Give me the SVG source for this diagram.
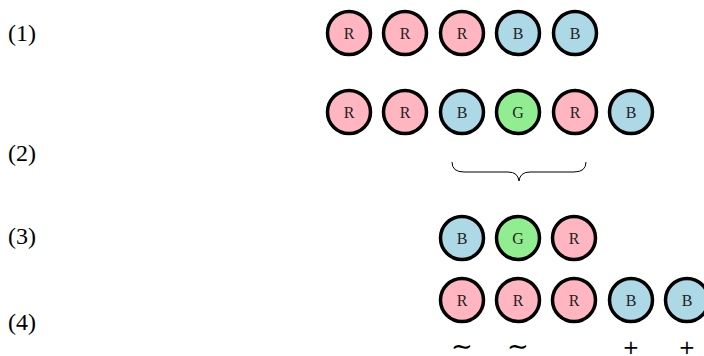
<svg xmlns="http://www.w3.org/2000/svg" width="704" height="356" viewBox="0 0 704 356">
<style>
circle{stroke:#000;stroke-width:3.5}
.r{fill:#FFB6C1}.b{fill:#ADD8E6}.g{fill:#90EE90}
.t{font-family:"Liberation Serif",serif;font-size:16px;text-anchor:middle;fill:#222}
.lab{font-family:"Liberation Serif",serif;font-size:24px;fill:#000}
.s{font-family:"DejaVu Sans",sans-serif;font-size:20px;text-anchor:middle;fill:#000}
.tl{font-family:"DejaVu Sans",sans-serif;font-size:26px;text-anchor:middle;fill:#000}
</style>
<rect width="704" height="356" fill="#fff"/>
<g id="labels">
<text class="lab" x="8" y="41">(1)</text>
<text class="lab" x="8" y="161">(2)</text>
<text class="lab" x="8" y="244">(3)</text>
<text class="lab" x="8" y="330">(4)</text>
</g>
<g id="row1">
<g id="n1a"><circle class="r" cx="349" cy="33" r="21.5"/><text class="t" x="349" y="39">R</text></g>
<g id="n1b"><circle class="r" cx="405" cy="33" r="21.5"/><text class="t" x="405" y="39">R</text></g>
<g id="n1c"><circle class="r" cx="462" cy="33" r="21.5"/><text class="t" x="462" y="39">R</text></g>
<g id="n1d"><circle class="b" cx="518" cy="33" r="21.5"/><text class="t" x="518" y="39">B</text></g>
<g id="n1e"><circle class="b" cx="575" cy="33" r="21.5"/><text class="t" x="575" y="39">B</text></g>
</g>
<g id="row2">
<g id="n2a"><circle class="r" cx="349" cy="112" r="21.5"/><text class="t" x="349" y="118">R</text></g>
<g id="n2b"><circle class="r" cx="405" cy="112" r="21.5"/><text class="t" x="405" y="118">R</text></g>
<g id="n2c"><circle class="b" cx="462" cy="112" r="21.5"/><text class="t" x="462" y="118">B</text></g>
<g id="n2d"><circle class="g" cx="518" cy="112" r="21.5"/><text class="t" x="518" y="118">G</text></g>
<g id="n2e"><circle class="r" cx="575" cy="112" r="21.5"/><text class="t" x="575" y="118">R</text></g>
<g id="n2f"><circle class="b" cx="631" cy="112" r="21.5"/><text class="t" x="631" y="118">B</text></g>
</g>
<g id="brace">
<path d="M452,162 Q452,172 464,172 L508,172 Q518,172 519,181 Q520,172 530,172 L574,172 Q586,172 586,162" fill="none" stroke="#000" stroke-width="1"/>
</g>
<g id="row3">
<g id="n3a"><circle class="b" cx="462" cy="238" r="21.5"/><text class="t" x="462" y="244">B</text></g>
<g id="n3b"><circle class="g" cx="518" cy="238" r="21.5"/><text class="t" x="518" y="244">G</text></g>
<g id="n3c"><circle class="r" cx="574" cy="238" r="21.5"/><text class="t" x="574" y="244">R</text></g>
</g>
<g id="row4">
<g id="n4a"><circle class="r" cx="462" cy="300" r="21.5"/><text class="t" x="462" y="306">R</text></g>
<g id="n4b"><circle class="r" cx="518" cy="300" r="21.5"/><text class="t" x="518" y="306">R</text></g>
<g id="n4c"><circle class="r" cx="574" cy="300" r="21.5"/><text class="t" x="574" y="306">R</text></g>
<g id="n4d"><circle class="b" cx="631" cy="300" r="21.5"/><text class="t" x="631" y="306">B</text></g>
<g id="n4e"><circle class="b" cx="687" cy="300" r="21.5"/><text class="t" x="687" y="306">B</text></g>
</g>
<g id="marks">
<text class="tl" x="462" y="355">∼</text>
<text class="tl" x="518" y="355">∼</text>
<text class="s" x="631" y="354">+</text>
<text class="s" x="687" y="354">+</text>
</g>
</svg>
